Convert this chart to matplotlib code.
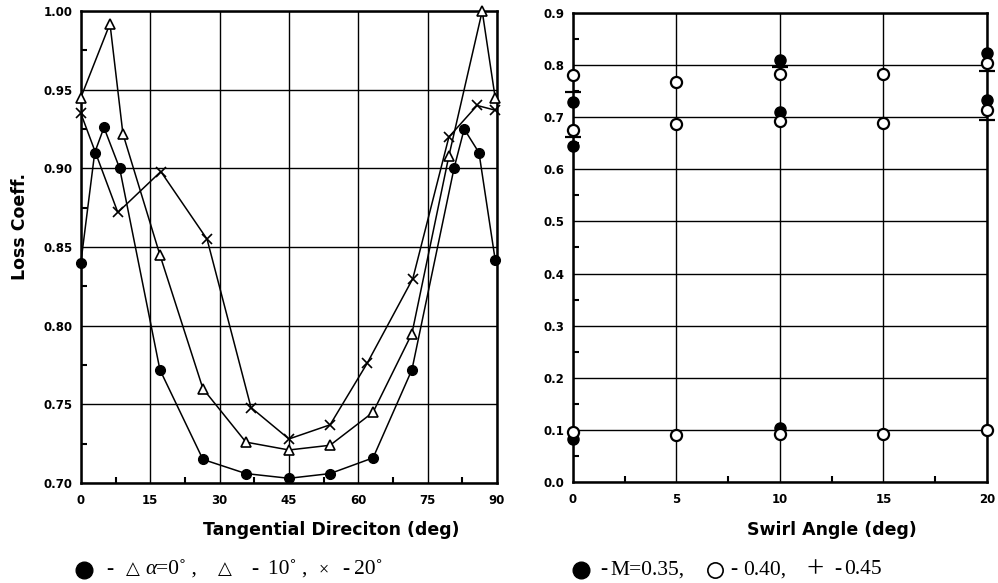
import matplotlib
matplotlib.use("Agg")
import matplotlib.pyplot as plt
from matplotlib.lines import Line2D
from matplotlib.ticker import MultipleLocator, FormatStrFormatter

# ---- left panel: loss coefficient vs tangential direction ----
ang_a0 = [0, 3, 5, 8.4, 17.1, 26.4, 35.7, 45, 53.9, 63.2, 71.6, 80.7, 82.9, 86.1, 89.6]
loss_a0 = [0.840, 0.910, 0.926, 0.900, 0.772, 0.715, 0.706, 0.703, 0.706, 0.716, 0.772, 0.900, 0.925, 0.910, 0.842]

ang_a10 = [0, 6.3, 9.1, 17.1, 26.4, 35.7, 45, 53.9, 63.2, 71.6, 79.6, 86.8, 89.6]
loss_a10 = [0.945, 0.992, 0.922, 0.845, 0.760, 0.726, 0.721, 0.724, 0.745, 0.795, 0.908, 1.000, 0.945]

ang_a20 = [0, 8.0, 17.3, 27.3, 36.8, 45, 53.9, 61.9, 71.8, 79.6, 85.7, 89.6]
loss_a20 = [0.935, 0.872, 0.898, 0.855, 0.748, 0.728, 0.737, 0.776, 0.830, 0.920, 0.940, 0.937]

# ---- right panel: swirl angle ----
sw_m35 = [0, 0, 0, 10, 10, 10, 20, 20]
val_m35 = [0.729, 0.644, 0.082, 0.810, 0.709, 0.103, 0.822, 0.733]

sw_m40 = [0, 0, 0, 5, 5, 5, 10, 10, 10, 15, 15, 15, 20, 20, 20]
val_m40 = [0.780, 0.676, 0.097, 0.768, 0.686, 0.090, 0.782, 0.692, 0.092, 0.782, 0.688, 0.092, 0.804, 0.713, 0.100]

sw_m45 = [0, 0, 10, 20, 20]
val_m45 = [0.749, 0.661, 0.797, 0.788, 0.695]

W, H = 998, 583
fig = plt.figure(figsize=(W / 100, H / 100), dpi=100)
ax1 = fig.add_axes([0.081, 0.1715, 0.417, 0.8095])
ax2 = fig.add_axes([0.574, 0.173, 0.415, 0.805])

ax1.plot(ang_a0, loss_a0, "-o", color="black", lw=1.1, ms=7, mfc="black", mec="black", clip_on=False, zorder=3)
ax1.plot(ang_a10, loss_a10, "-^", color="black", lw=1.1, ms=7, mfc="white", mec="black", mew=1.2, clip_on=False, zorder=3)
ax1.plot(ang_a20, loss_a20, "-x", color="black", lw=1.1, ms=7, mec="black", mew=1.2, clip_on=False, zorder=3)
ax1.set_xlim(0, 90)
ax1.set_ylim(0.70, 1.00)
ax1.xaxis.set_major_locator(MultipleLocator(15))
ax1.xaxis.set_minor_locator(MultipleLocator(7.5))
ax1.yaxis.set_major_locator(MultipleLocator(0.05))
ax1.yaxis.set_minor_locator(MultipleLocator(0.025))
ax1.yaxis.set_major_formatter(FormatStrFormatter("%.2f"))
ax1.xaxis.set_major_formatter(FormatStrFormatter("%d"))

ax2.plot(sw_m35, val_m35, "o", ms=8, mfc="black", mec="black", clip_on=False, zorder=3)
ax2.plot(sw_m40, val_m40, "o", ms=8, mfc="white", mec="black", mew=1.6, clip_on=False, zorder=4)
ax2.plot(sw_m45, val_m45, "_", ms=11, mec="black", mew=1.6, clip_on=False, zorder=5)
ax2.set_xlim(0, 20)
ax2.set_ylim(0.0, 0.9)
ax2.xaxis.set_major_locator(MultipleLocator(5))
ax2.xaxis.set_minor_locator(MultipleLocator(2.5))
ax2.yaxis.set_major_locator(MultipleLocator(0.1))
ax2.yaxis.set_minor_locator(MultipleLocator(0.05))
ax2.yaxis.set_major_formatter(FormatStrFormatter("%.1f"))
ax2.xaxis.set_major_formatter(FormatStrFormatter("%d"))

for ax in (ax1, ax2):
    ax.grid(True, which="major", color="black", lw=1.0)
    ax.set_axisbelow(True)
    for s in ax.spines.values():
        s.set_linewidth(1.8)
    ax.tick_params(which="both", direction="in", length=0, pad=6)
    ax.tick_params(which="minor", length=4, width=1.5)
    ax.tick_params(axis="x", pad=8)
    for lab in ax.get_xticklabels() + ax.get_yticklabels():
        lab.set_fontfamily("DejaVu Sans")
        lab.set_fontweight("bold")
        lab.set_fontsize(8.5)

lab_font = dict(family="DejaVu Sans", weight="bold", size=12.5)
fig.text(331 / W, 1 - 530 / H, "Tangential Direciton (deg)", ha="center", va="center", **lab_font)
fig.text(832 / W, 1 - 530 / H, "Swirl Angle (deg)", ha="center", va="center", **lab_font)
fig.text(20 / W, 1 - 226 / H, "Loss Coeff.", rotation=90, ha="center", va="center", **lab_font)

# legend lines under each panel, placed piece by piece
leg_fam = ["Liberation Serif", "DejaVu Sans"]
yl = 1 - 570 / H

def put(px, s, size=15.5, **kw):
    fig.text(px / W, yl, s, ha="left", va="center", size=size, family=leg_fam, **kw)

def sym(px, **kw):
    fig.add_artist(Line2D([px / W], [yl], transform=fig.transFigure, ls="none", marker="o", **kw))

sym(84, ms=12, mfc="black", mec="black")
put(106, "-")
put(126, "\u25B3", size=13)
put(145, "\u03B1", style="italic")
put(156, "=0\u02da ,")
put(218, "\u25B3", size=13)
put(251, "-")
put(268, "10\u02da ,")
put(319, "\u00D7", size=13)
put(342, "-")
put(354, "20\u02da")

sym(581, ms=12, mfc="black", mec="black")
put(600, "-")
put(610, "M=0.35,")
put(730, "-")
sym(715, ms=11, mfc="white", mec="black", mew=1.2)
put(743, "0.40,")
put(806, "+", size=22)
put(834, "-")
put(844, "0.45")

fig.savefig("out.png", dpi=100)
